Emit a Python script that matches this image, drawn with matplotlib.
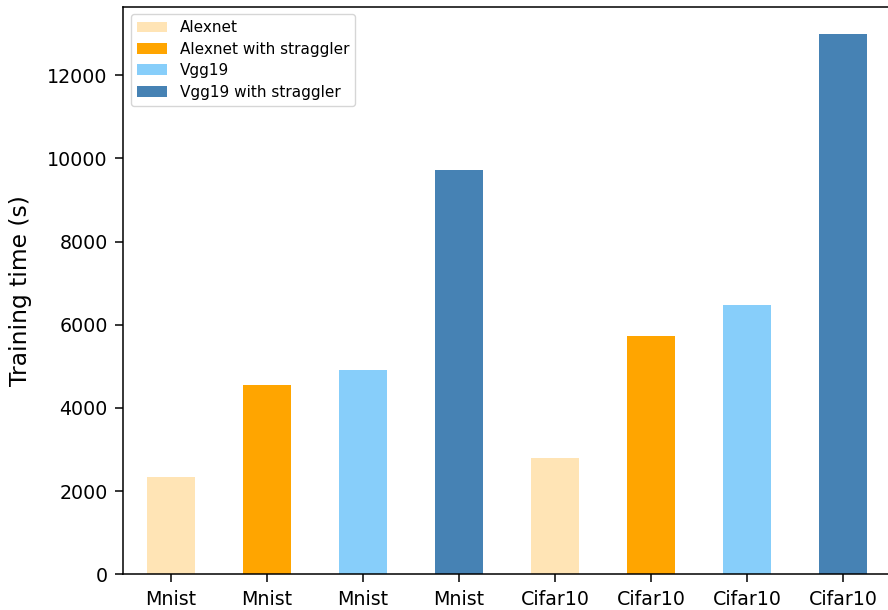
import matplotlib
matplotlib.use("Agg")
import matplotlib.pyplot as plt
from matplotlib.patches import Patch

# Training time per dataset / model configuration
datasets = ["Mnist", "Mnist", "Mnist", "Mnist", "Cifar10", "Cifar10", "Cifar10", "Cifar10"]
times = [2335, 4550, 4911, 9725, 2800, 5720, 6483, 13000]
series = ["Alexnet", "Alexnet with straggler", "Vgg19", "Vgg19 with straggler"]
series_colors = ["moccasin", "orange", "lightskyblue", "steelblue"]
bar_colors = series_colors * 2

fig = plt.figure(figsize=(8.88, 6.10), dpi=100)
ax = fig.add_axes([123 / 888, 1 - 574.3 / 610, 768 / 888, (574.3 - 6.5) / 610])

x = list(range(len(times)))
ax.bar(x, times, width=0.5, color=bar_colors)
ax.set_xticks(x)
ax.set_xticklabels(datasets)
ax.set_xlim(-0.5, 7.5)
ax.set_ylim(0, max(times) * 1.05)

ax.tick_params(labelsize=13.7, length=6, width=1.1, pad=5)
for s in ax.spines.values():
    s.set_linewidth(1.1)
ax.set_ylabel("Training time (s)", fontsize=16.8, labelpad=11)

handles = [Patch(facecolor=c, label=l) for c, l in zip(series_colors, series)]
ax.legend(handles=handles, loc="upper left", fontsize=11, labelspacing=0.42)

fig.savefig("out.png", dpi=100)
